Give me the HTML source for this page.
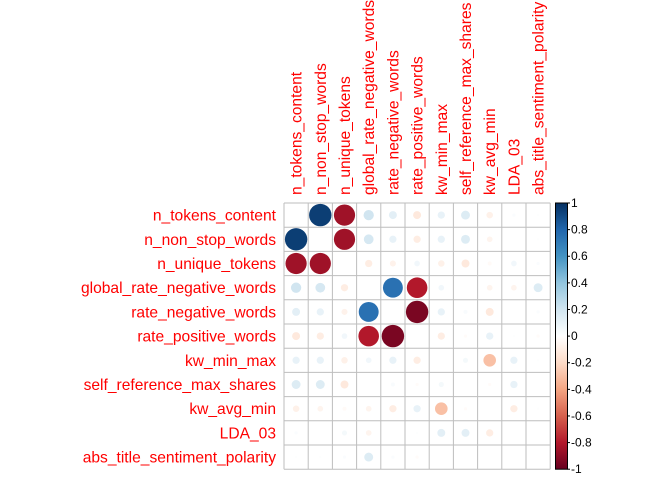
<!DOCTYPE html>
<html><head><meta charset="utf-8"><style>
html,body{margin:0;padding:0;background:#fff;}
svg{display:block;font-family:"Liberation Sans",Arial,sans-serif;}
</style></head><body>
<svg id="s" width="672" height="480" xmlns="http://www.w3.org/2000/svg"></svg>
<script>
const names=["n_tokens_content","n_non_stop_words","n_unique_tokens","global_rate_negative_words","rate_negative_words","rate_positive_words","kw_min_max","self_reference_max_shares","kw_avg_min","LDA_03","abs_title_sentiment_polarity"];
const M=[
[0,0.95,-0.85,0.2,0.12,-0.12,0.1,0.15,-0.08,0.02,0.01],
[0.95,0,-0.85,0.18,0.1,-0.1,0.1,0.15,-0.06,0,0.01],
[-0.85,-0.85,0,-0.1,-0.07,0.06,-0.08,-0.12,-0.03,0.06,0.02],
[0.2,0.18,-0.1,0,0.75,-0.8,0.06,0,-0.06,-0.06,0.15],
[0.12,0.1,-0.07,0.75,0,-0.95,0.1,0.03,-0.12,0,0.02],
[-0.12,-0.1,0.06,-0.8,-0.95,0,-0.1,-0.02,0.1,0.01,-0.02],
[0.1,0.1,-0.08,0.06,0.1,-0.1,0,0.05,-0.3,0.1,0.01],
[0.15,0.15,-0.12,0,0.03,-0.02,0.05,0,-0.02,0.1,0],
[-0.08,-0.06,-0.03,-0.06,-0.1,0.1,-0.3,-0.02,0,-0.1,0.01],
[0.02,0,0.05,-0.06,0,0.01,0.12,0.12,-0.1,0,0],
[0.01,0.01,0.02,0.15,0.02,-0.02,0,0,0,0,0]];
const pal=["#67001F","#B2182B","#D6604D","#F4A582","#FDDBC7","#FFFFFF","#D1E5F0","#92C5DE","#4393C3","#2166AC","#053061"];
function hx(c){return [1,3,5].map(i=>parseInt(c.substr(i,2),16));}
function col(v){let t=(v+1)/2*10;let i=Math.min(9,Math.floor(t));let f=t-i;let a=hx(pal[i]),b=hx(pal[i+1]);return "rgb("+a.map((x,k)=>Math.round(x+(b[k]-x)*f)).join(",")+")";}
const X0=284,Y0=203,C=24.2,N=11;
let h="";
for(let i=0;i<N;i++)for(let j=0;j<N;j++){const v=M[i][j];if(i!==j&&Math.abs(v)>0.005){h+=`<circle cx="${X0+C*(j+.5)}" cy="${Y0+C*(i+.5)}" r="${11.5*Math.sqrt(Math.abs(v))}" fill="${col(v)}"/>`;}}
for(let k=0;k<=N;k++){h+=`<line x1="${X0+C*k}" y1="${Y0}" x2="${X0+C*k}" y2="${Y0+C*N}" stroke="#bebebe" stroke-width="1"/>`;h+=`<line x1="${X0}" y1="${Y0+C*k}" x2="${X0+C*N}" y2="${Y0+C*k}" stroke="#bebebe" stroke-width="1"/>`;}
for(let i=0;i<N;i++){h+=`<text x="276" y="${Y0+C*(i+.5)+5.5}" text-anchor="end" font-size="15.6" fill="#f00">${names[i]}</text>`;
h+=`<text transform="translate(${X0+C*(i+.5)+5.5},195) rotate(-90)" font-size="15.6" fill="#f00">${names[i]}</text>`;}
let st="";pal.forEach((c,k)=>st+=`<stop offset="${k/10}" stop-color="${c}"/>`);
h+=`<defs><linearGradient id="g" x1="0" y1="1" x2="0" y2="0">${st}</linearGradient></defs>`;
h+=`<rect x="555.5" y="203" width="12" height="266.2" fill="url(#g)" stroke="#000" stroke-width="1"/>`;
for(let k=0;k<=10;k++){const v=-1+k*0.2;const y=469.2-k*26.62;h+=`<line x1="567.5" y1="${y}" x2="570" y2="${y}" stroke="#000"/>`;
let l=Math.abs(v)<1e-9?"0":(Math.round(v*10)/10).toString();h+=`<text x="571" y="${y+4}" font-size="12" fill="#000">${l}</text>`;}
document.getElementById("s").innerHTML=h;
</script>
</body></html>
